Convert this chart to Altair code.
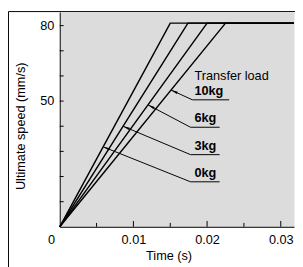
import math
import altair as alt
import pandas as pd

# ---- data ----
loads = ["0kg", "3kg", "6kg", "10kg"]
t_reach = [0.0150, 0.0174, 0.0200, 0.0225]   # time at which top speed is reached
v_max = [81, 81, 81, 81]
t_end = 0.0318
v_top = 85.4

x_label_values = [0, 0.01, 0.02, 0.03]
x_major_ticks = [0.01, 0.02, 0.03]
x_minor_ticks = [0.005, 0.015, 0.025]
y_label_values = [50, 80]
y_tick_values = [10, 20, 30, 40, 50, 60, 70, 80]

# annotation: arrow tips on the lines, underlines and labels
tip_t = [0.00589, 0.00859, 0.01198, 0.01511]
tip_v = [31.8, 40.0, 48.5, 54.4]
under_t0 = [0.01775, 0.01775, 0.01775, 0.0180]
under_t1 = [0.0217, 0.0217, 0.0217, 0.0230]
under_v = [17.9, 28.7, 39.6, 50.5]
label_t = [0.01828, 0.01828, 0.01828, 0.01828]
label_v = [19.8, 30.6, 41.5, 52.4]
legend_title = ["Transfer load"]
legend_title_t = [0.01828]
legend_title_v = [58.3]

W, H = 240, 220
FONT = "Liberation Sans"

# ---- tables ----
rows = []
for name, tr, vm in zip(loads, t_reach, v_max):
    rows.append({"load": name, "o": 0, "t": 0.0, "v": 0.0})
    rows.append({"load": name, "o": 1, "t": tr, "v": vm})
    rows.append({"load": name, "o": 2, "t": t_end, "v": vm})
lines_df = pd.DataFrame(rows)

sx = W / t_end
sy = H / v_top
ann = []
for i, name in enumerate(loads):
    a = (under_t0[i] - tip_t[i]) * sx
    b = (tip_v[i] - under_v[i]) * sy
    L = math.hypot(a, b)
    ang = math.degrees(math.atan2(b, a))
    ann.append({
        "load": name,
        "tip_t": tip_t[i], "tip_v": tip_v[i],
        "u0": under_t0[i], "u1": under_t1[i], "uv": under_v[i],
        "lt": label_t[i], "lv": label_v[i],
        "ht": tip_t[i] + 3.5 * (a / L) / sx,
        "hv": tip_v[i] - 3.5 * (b / L) / sy,
        "ang": ang,
    })
ann_df = pd.DataFrame(ann)
title_df = pd.DataFrame({"text": legend_title, "t": legend_title_t, "v": legend_title_v})

xs = alt.Scale(domain=[0, t_end], nice=False, zero=False)
ys = alt.Scale(domain=[0, v_top], nice=False, zero=False)

x_axis = alt.Axis(
    values=x_label_values,
    labelExpr="datum.value == 0 ? '0' : format(datum.value, '.2f')",
    labelFlush=False,
    labelOffset={"condition": {"test": "datum.value == 0", "value": -9}, "value": 0},
    ticks=False, grid=False, labelPadding=7, title="Time (s)",
    titleX=111.5, titlePadding=3,
)
y_axis = alt.Axis(
    values=y_label_values, ticks=False, grid=False, labelPadding=6,
    title="Ultimate speed (mm/s)", titlePadding=13, titleY=116.5,
)


def X(f):
    return alt.X(f, type="quantitative", scale=xs, axis=x_axis)


def Y(f):
    return alt.Y(f, type="quantitative", scale=ys, axis=y_axis)


lines = alt.Chart(lines_df).mark_line(color="black", strokeWidth=1.5).encode(
    x=X("t"), y=Y("v"), detail="load:N", order="o:Q",
)

ytick_df = pd.DataFrame({"v": y_tick_values})
yticks = alt.Chart(ytick_df).mark_rule(color="black", strokeWidth=1).encode(
    y=Y("v"), x=alt.value(0), x2=alt.value(4)
)
xmaj = alt.Chart(pd.DataFrame({"t": x_major_ticks})).mark_rule(color="black").encode(
    x=X("t"), y=alt.value(H), y2=alt.value(H - 6)
)
xmin = alt.Chart(pd.DataFrame({"t": x_minor_ticks})).mark_rule(color="black").encode(
    x=X("t"), y=alt.value(H), y2=alt.value(H - 4)
)

leaders = alt.Chart(ann_df).mark_rule(color="black", strokeWidth=1).encode(
    x=X("tip_t"), y=Y("tip_v"), x2="u0:Q", y2="uv:Q",
)
unders = alt.Chart(ann_df).mark_rule(color="black", strokeWidth=1).encode(
    x=X("u0"), x2="u1:Q", y=Y("uv"),
)
heads = alt.Chart(ann_df).mark_point(
    shape="M-1,0L1,-0.38L1,0.38Z", filled=True, color="black", size=49, opacity=1
).encode(
    x=X("ht"), y=Y("hv"), angle=alt.Angle("ang:Q", scale=None),
)
labels = alt.Chart(ann_df).mark_text(
    align="left", baseline="alphabetic", font=FONT, fontSize=13, fontWeight="bold", color="black"
).encode(
    x=X("lt"), y=Y("lv"), text="load:N"
)
ltitle = alt.Chart(title_df).mark_text(
    align="left", baseline="alphabetic", font=FONT, fontSize=13, color="black"
).encode(
    x=X("t"), y=Y("v"), text="text:N"
)

frame = alt.Chart(pd.DataFrame({"a": [0]})).mark_rect(
    fill="transparent", stroke="black", strokeWidth=1
).encode(
    x=alt.value(-52.5), x2=alt.value(W + 30), y=alt.value(-0.5), y2=alt.value(H + 80)
)

chart = alt.layer(
    lines, yticks, xmaj, xmin, leaders, unders, heads, labels, ltitle, frame
).properties(
    width=W, height=H,
    autosize=alt.AutoSizeParams(type="none"),
    padding={"left": 53, "top": 1, "right": 1, "bottom": 38},
).configure_view(
    fill="#dcdcdc", stroke="transparent"
).configure_axis(
    domainColor="black", domainWidth=1,
    labelFont=FONT, labelFontSize=13, labelColor="black",
    titleFont=FONT, titleFontSize=13, titleColor="black", titleFontWeight="normal",
)

chart.save("out.html", embed_options={"renderer": "svg", "actions": False})
